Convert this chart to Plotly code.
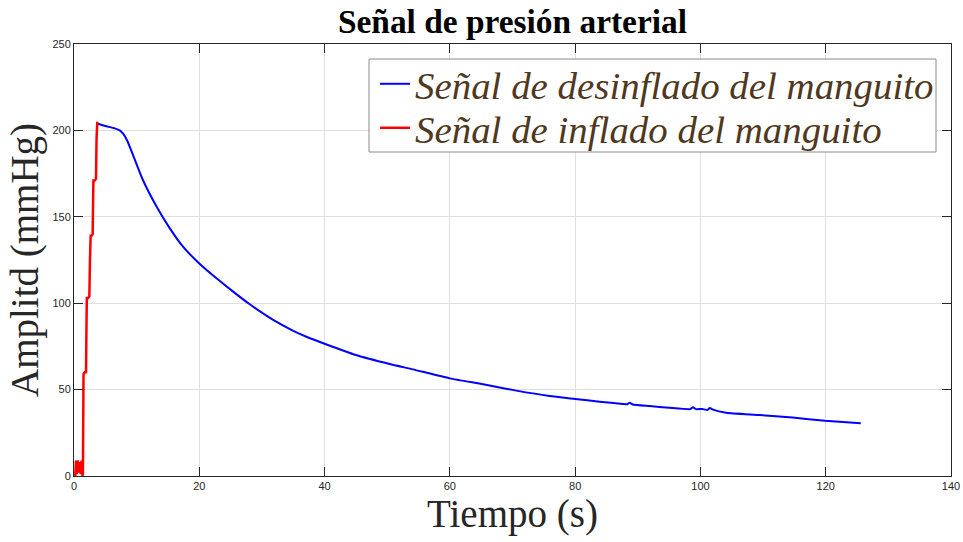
import plotly.graph_objects as go

# Cuff deflation signal (time in s, pressure in mmHg)
t_desinflado = [3.75, 5.0, 6.5, 7.3, 7.9, 8.5, 9.5, 11.0, 13.2, 15.3, 17.4, 20.0,
                22.75, 25.4, 28.0, 31.8, 35.0, 37.1, 40.1, 45.0, 50.4, 54.1, 60.0,
                65.3, 70.6, 75.9, 80.0, 83.9, 87.6, 88.3, 88.7, 89.2, 91.9, 95.0,
                98.4, 98.8, 99.3, 100.3, 101.1, 101.5, 102.0, 104.1, 109.4, 114.7,
                119.9, 125.6]
p_desinflado = [203.8, 202.5, 201.2, 200.0, 197.8, 194.0, 185.0, 171.3, 155.8, 143.3,
                132.7, 123.0, 114.4, 106.7, 99.5, 90.3, 84.0, 80.6, 76.4, 70.0, 64.8,
                61.7, 56.5, 53.1, 49.4, 46.3, 44.6, 43.0, 41.7, 41.5, 42.4, 41.4, 40.5,
                39.5, 38.7, 39.8, 38.7, 38.8, 38.2, 39.3, 38.4, 36.6, 35.3, 33.8, 32.0,
                30.5]

# Cuff inflation signal
t_inflado = [0.0, 0.2, 0.32, 0.45, 0.6, 0.75, 0.96, 1.08, 1.2, 1.35, 1.42, 1.47, 1.52,
             1.7, 1.92, 2.0, 2.05, 2.25, 2.45, 2.55, 2.66, 2.8, 2.98, 3.05, 3.1, 3.3,
             3.51, 3.6, 3.72]
p_inflado = [0, 0, 9, 1, 9, 2, 8, 1, 9, 0, 1, 30, 59, 60, 60, 90, 103, 103, 104, 125,
             139, 139, 140, 160, 171, 171, 172, 195, 205]

x_ticks = [0, 20, 40, 60, 80, 100, 120, 140]
y_ticks = [0, 50, 100, 150, 200, 250]

serif = "Liberation Serif, Times New Roman, serif"
sans = "Liberation Sans, Arial, Helvetica, sans-serif"
axis_color = "#262626"
grid_color = "#dfdfdf"
legend_text = "#503820"

fig = go.Figure()
fig.add_trace(go.Scatter(
    x=t_desinflado, y=p_desinflado, mode="lines",
    name="Señal de desinflado del manguito",
    line=dict(color="#0000ff", width=2, shape="spline", smoothing=0.5),
    legend="legend",
))
fig.add_trace(go.Scatter(
    x=t_inflado, y=p_inflado, mode="lines",
    name="Señal de inflado del manguito",
    line=dict(color="#ff0000", width=2.5),
    legend="legend2",
))

# plot-area geometry in pixels, used to place the legend frame
L, R, T, B = 74, 951, 44, 476
W, H = R - L, B - T


def px_x(x):
    return (x - L) / W


def px_y(y):
    return (B - y) / H


legend_common = dict(
    xanchor="left", yanchor="middle",
    font=dict(family=serif, size=38.9, color=legend_text, style="italic"),
    bgcolor="rgba(0,0,0,0)", borderwidth=0,
)

fig.update_layout(
    width=963, height=542,
    margin=dict(l=L, r=963 - R, t=T, b=542 - B, autoexpand=False),
    paper_bgcolor="white", plot_bgcolor="white",
    title=dict(text="<b>Señal de presión arterial</b>",
               font=dict(family=serif, size=33.4, color="black"),
               x=0.5, xref="paper", xanchor="center",
               y=1 - 21 / 542, yref="container", yanchor="middle"),
    legend=dict(x=px_x(375), y=px_y(84), **legend_common),
    legend2=dict(x=px_x(375), y=px_y(128), **legend_common),
    showlegend=True,
    shapes=[dict(type="rect", xref="paper", yref="paper",
                 x0=px_x(369), x1=px_x(936), y0=px_y(152), y1=px_y(59),
                 fillcolor="white", line=dict(color="#8a8a8a", width=1),
                 layer="above")],
)

fig.update_xaxes(
    range=[0, 140], tickvals=x_ticks, ticktext=[str(v) for v in x_ticks],
    showgrid=True, gridcolor=grid_color, gridwidth=1, zeroline=False,
    showline=True, linecolor=axis_color, linewidth=1, mirror="ticks",
    ticks="inside", ticklen=9, tickcolor=axis_color, tickwidth=1,
    tickfont=dict(family=sans, size=11, color=axis_color),
    title=dict(text="Tiempo (s)", font=dict(family=serif, size=39, color=axis_color),
               standoff=4),
    automargin=False,
)
fig.update_yaxes(
    range=[0, 250], tickvals=y_ticks, ticktext=[str(v) for v in y_ticks],
    showgrid=True, gridcolor=grid_color, gridwidth=1, zeroline=False,
    showline=True, linecolor=axis_color, linewidth=1, mirror="ticks",
    ticks="inside", ticklen=9, tickcolor=axis_color, tickwidth=1,
    tickfont=dict(family=sans, size=11, color=axis_color),
    title=dict(text="Amplitd (mmHg)", font=dict(family=serif, size=39, color=axis_color),
               standoff=1),
    automargin=False,
)

fig.write_html("out.html")
